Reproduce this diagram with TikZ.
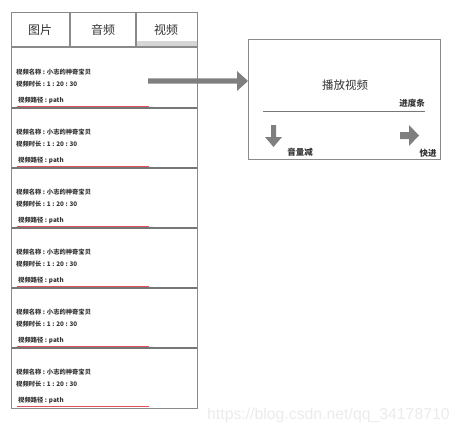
\documentclass[tikz,border=0pt]{standalone}
\usepackage{fontspec}
\setmainfont{Liberation Sans}
\newfontfamily\cjk{Noto Sans CJK SC}
\definecolor{frame}{HTML}{8A8A8A}
\definecolor{sep}{HTML}{777777}
\definecolor{redline}{HTML}{E0505A}
\definecolor{strip}{HTML}{D6D6D6}
\definecolor{arrowgray}{HTML}{7F7F7F}
\definecolor{ink}{HTML}{333333}
\tikzset{
  panel/.style={draw=frame, line width=1.3pt},
  tablabel/.style={font=\cjk\fontsize{12}{14}\selectfont, text=ink, inner sep=0pt},
  itemtext/.style={font=\cjk\bfseries\fontsize{6.3}{8}\selectfont, text=ink, anchor=west, inner sep=0pt},
  smalllabel/.style={font=\cjk\bfseries\fontsize{8.5}{10}\selectfont, text=ink, inner sep=0pt},
}
\begin{document}
\begin{tikzpicture}[x=1pt,y=-1pt]
\useasboundingbox (0,0) rectangle (460,434);
% left panel
\node[panel, minimum width=186pt, minimum height=396pt, anchor=north west, inner sep=0pt] (list) at (11,12) {};
% tab strip
\fill[strip] (136,41) rectangle (197,47);
\draw[panel] (11,47) -- (197,47);
\draw[panel] (70,12) -- (70,47);
\draw[panel] (136,12) -- (136,47);
\node[tablabel] (tab1) at (40,30) {图片};
\node[tablabel] (tab2) at (103,30) {音频};
\node[tablabel] (tab3) at (166,30) {视频};
% items
\foreach \i in {0,...,5}{
  \pgfmathsetmacro{\top}{48+60*\i}
  \node[itemtext] (name\i) at (16,\top+24) {视频名称 : 小志的神奇宝贝};
  \node[itemtext] (dur\i) at (16,\top+36) {视频时长 : 1 : 20 : 30};
  \node[itemtext] (path\i) at (18,\top+52) {视频路径 : path};
  \draw[redline, line width=1.2pt] (17,\top+58.5) -- (149,\top+58.5);
  \ifnum\i<5
    \draw[sep, line width=1.3pt] (11,\top+60) -- (197,\top+60);
  \fi
}
% player box
\node[panel, minimum width=192pt, minimum height=120pt, anchor=north west, inner sep=0pt] (player) at (248,39) {};
\node[font=\cjk\fontsize{11.5}{14}\selectfont, text=ink, inner sep=0pt] (title) at (345,85) {播放视频};
\coordinate (barL) at (263,111);
\coordinate (barR) at (425,111);
\draw[sep, line width=1pt] (barL) -- (barR);
\node[smalllabel, anchor=south east] (progress) at (425,108) {进度条};
% big arrow from list to player
\fill[arrowgray] (148,78.4) -- (237,78.4) -- (237,71) -- (248,81) -- (237,91) -- (237,83.6) -- (148,83.6) -- cycle;
% down arrow
\fill[arrowgray] (271,125) -- (276,125) -- (276,137) -- (282,137) -- (273.5,147) -- (265,137) -- (271,137) -- cycle;
\node[smalllabel] (voldown) at (300,152) {音量减};
% right arrow
\fill[arrowgray] (400,132) -- (409,132) -- (409,125) -- (419,135.5) -- (409,146) -- (409,139) -- (400,139) -- cycle;
\node[smalllabel] (ff) at (428,153) {快进};
% watermark
\node[font=\fontsize{15.8}{18}\selectfont, text=black!8, inner sep=0pt, anchor=west] (wm) at (207,415) {https://blog.csdn.net/qq\_34178710};
\end{tikzpicture}
\end{document}
